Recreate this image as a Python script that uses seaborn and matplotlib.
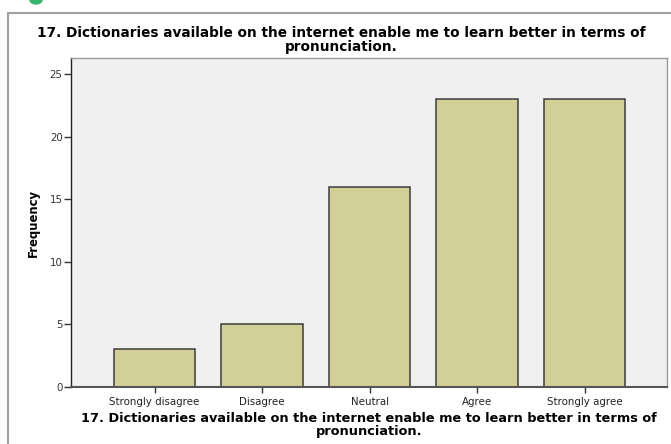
import matplotlib
matplotlib.use('Agg')
import matplotlib.pyplot as plt
import seaborn as sns
import pandas as pd
from matplotlib.patches import Rectangle, Circle

categories = ['Strongly disagree', 'Disagree', 'Neutral', 'Agree', 'Strongly agree']
frequency = [3, 5, 16, 23, 23]
title = ('17. Dictionaries available on the internet enable me to learn better in terms of\n'
         'pronunciation.')

sns.set_style('white')
plt.rcParams['font.family'] = ['DejaVu Sans']

df = pd.DataFrame({'antwoord': categories, 'frequency': frequency})

fig = plt.figure(figsize=(6.71, 4.44), dpi=100)
ax = fig.add_axes([71 / 671, 1 - 387 / 444, (667 - 71) / 671, (387 - 58) / 444])
ax.set_facecolor('#f0f0f0')

sns.barplot(data=df, x='antwoord', y='frequency', color='#d3cf98',
            edgecolor='#3c3c3c', linewidth=1.1, width=0.755, saturation=1, ax=ax)

ax.set_xlim(-0.777, 4.767)
ax.set_ylim(0, 26.3)
ax.set_yticks([0, 5, 10, 15, 20, 25])
ax.tick_params(axis='y', direction='out', length=5, width=1, color='#333333',
               labelsize=7.4, labelcolor='#333333', pad=1, left=True)
ax.tick_params(axis='x', direction='out', length=4, width=1, color='#333333',
               labelsize=7.4, labelcolor='#222222', pad=3, bottom=True)

for s in ['top', 'right']:
    ax.spines[s].set_color('#9a9a9a')
    ax.spines[s].set_linewidth(1)
ax.spines['left'].set_color('#222222')
ax.spines['left'].set_linewidth(1)
ax.spines['bottom'].set_color('#555555')
ax.spines['bottom'].set_linewidth(1.5)

ax.set_ylabel('Frequency', fontsize=8.4, fontweight='bold', labelpad=7, color='black')
ax.set_xlabel(title, fontsize=9.3, fontweight='bold', labelpad=4, linespacing=0.95,
              color='black')

fig.text(341 / 671, 1 - 40 / 444, title, ha='center', va='center',
         fontsize=9.8, fontweight='bold', linespacing=0.95, color='black')

# buitenkader
fig.patches.append(Rectangle((8 / 671, -0.2), 1.2, 1 - 13 / 444 + 0.2,
                             transform=fig.transFigure, fill=False,
                             edgecolor='#a0a0a0', linewidth=1.5))
fig.patches.append(Circle((36 / 671, 1.0), 0.009, transform=fig.transFigure,
                          color='#3cb371'))

fig.savefig('out.png', dpi=100)
